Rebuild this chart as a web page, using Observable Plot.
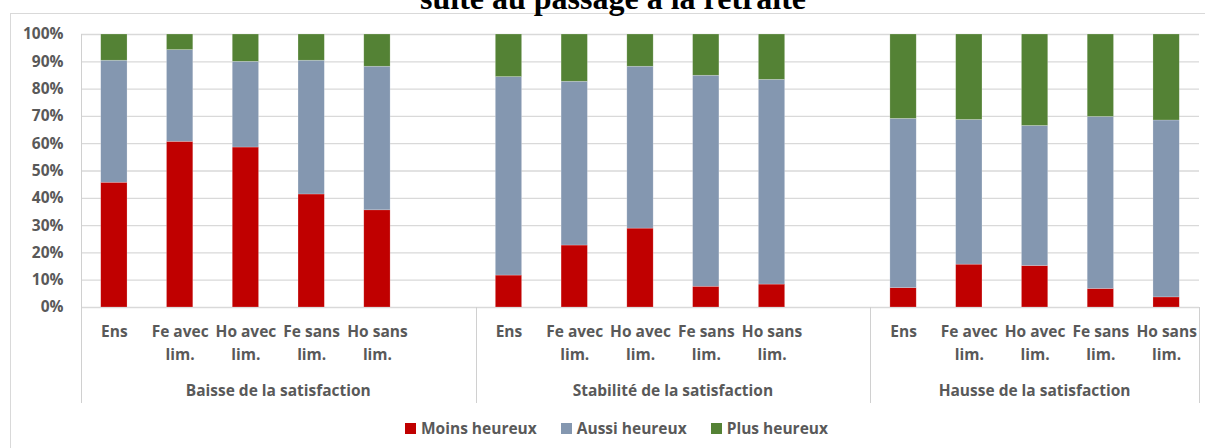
<!DOCTYPE html>
<html><head><meta charset="utf-8">
<script src="https://cdn.jsdelivr.net/npm/d3@7"></script>
<script src="https://cdn.jsdelivr.net/npm/@observablehq/plot@0.6"></script>
<style>
body{margin:0;background:#fff;}
#wrap{position:relative;width:1205px;height:448px;overflow:hidden;font-family:"Open Sans",sans-serif;}
#border{position:absolute;left:10px;top:13px;width:1300px;height:600px;border:1px solid #d9d9d9;box-sizing:border-box;}
#title{position:absolute;left:0;width:1226px;top:-20px;line-height:32px;text-align:center;font:bold 32px "Liberation Serif",serif;color:#000;white-space:nowrap;}
#chart{position:absolute;left:0;top:0;}
#legend{position:absolute;left:405px;top:418px;display:flex;gap:24px;font:bold 15.5px "Open Sans",sans-serif;color:#595959;line-height:20px;}
#legend .it{display:flex;align-items:center;gap:5px;}
#legend .sw{width:11px;height:11px;display:inline-block;}
</style></head>
<body>
<div id="wrap">
  <div id="border"></div>
  <div id="title">suite au passage à la retraite</div>
  <div id="chart"></div>
  <div id="legend"></div>
</div>
<script>
const groups = ["Baisse de la satisfaction", "Stabilité de la satisfaction", "Hausse de la satisfaction"];
const categories = ["Ens", "Fe avec\nlim.", "Ho avec\nlim.", "Fe sans\nlim.", "Ho sans\nlim."];
const series = ["Moins heureux", "Aussi heureux", "Plus heureux"];
const colors = ["#C00000", "#8497B0", "#548235"];
const yTicks = [0, 10, 20, 30, 40, 50, 60, 70, 80, 90, 100];

// values per group, in category order (percent)
const moinsBaisse = [45.7, 60.7, 58.6, 41.4, 35.6];
const aussiBaisse = [44.7, 33.6, 31.4, 49.0, 52.6];
const plusBaisse  = [9.6, 5.7, 10.0, 9.6, 11.8];

const moinsStab = [11.7, 22.7, 28.9, 7.6, 8.4];
const aussiStab = [72.7, 60.0, 59.3, 77.3, 75.0];
const plusStab  = [15.6, 17.3, 11.8, 15.1, 16.6];

const moinsHausse = [7.1, 15.7, 15.2, 6.8, 3.7];
const aussiHausse = [62.0, 53.0, 51.3, 63.0, 64.8];
const plusHausse  = [30.9, 31.3, 33.5, 30.2, 31.5];

const table = [
  [moinsBaisse, aussiBaisse, plusBaisse],
  [moinsStab, aussiStab, plusStab],
  [moinsHausse, aussiHausse, plusHausse]
];

const FONT = "Open Sans";
const FS = 15.5;

// x slots: 5 categories per group, plus an empty slot after the first two groups
const slots = [];
const groupSlots = [];
groups.forEach((g, gi) => {
  const s = [];
  categories.forEach((c, ci) => { const k = gi + "|" + ci; slots.push(k); s.push(k); });
  if (gi < groups.length - 1) { const k = "gap" + gi; slots.push(k); s.push(k); }
  groupSlots.push(s);
});

const rows = [];
const labelRows = [];
groups.forEach((g, gi) => {
  categories.forEach((c, ci) => {
    const key = gi + "|" + ci;
    labelRows.push({key, cat: c});
    series.forEach((s, si) => rows.push({key, group: g, cat: c, series: s, value: table[gi][si][ci]}));
  });
});

const groupAxis = (index, scales, values, dimensions) => {
  const x = scales.x, y = scales.y;
  const step = x.step(), half = x.bandwidth() / 2;
  const y0 = y(0), yTop = y(100), yBottom = y0 + 96;
  const g = d3.create("svg:g");
  const edges = [];
  groupSlots.forEach((s, gi) => {
    const left = x(s[0]) + half - step / 2;
    const right = x(s[s.length - 1]) + half + step / 2;
    edges.push(left);
    if (gi === groupSlots.length - 1) edges.push(right);
    g.append("text")
      .attr("x", (left + right) / 2).attr("y", y0 + 84).attr("dy", "0.35em")
      .attr("text-anchor", "middle")
      .attr("font-family", FONT).attr("font-weight", "bold").attr("font-size", FS)
      .attr("fill", "#595959").text(groups[gi]);
  });
  edges.forEach((ex, i) => {
    g.append("line")
      .attr("x1", Math.round(ex) + 0.5).attr("x2", Math.round(ex) + 0.5)
      .attr("y1", i === 0 ? yTop : y0).attr("y2", yBottom)
      .attr("stroke", "#d0d0d0").attr("stroke-width", 1);
  });
  return g.node();
};

const chart = Plot.plot({
  width: 1205, height: 410,
  marginLeft: 81, marginRight: 6, marginTop: 34, marginBottom: 103,
  style: {fontFamily: FONT, fontWeight: "bold", fontSize: FS + "px", color: "#595959", background: "transparent"},
  x: {type: "band", domain: slots, paddingInner: 0.6, paddingOuter: 0.3, round: false, axis: null},
  y: {domain: [0, 100]},
  color: {domain: series, range: colors},
  marks: [
    Plot.ruleY(yTicks, {stroke: "#d9d9d9", strokeWidth: 1.3}),
    Plot.barY(rows, {x: "key", y: "value", fill: "series", stroke: "#ffffff", strokeOpacity: 0.35, strokeWidth: 0.6}),
    Plot.axisY({ticks: yTicks, tickSize: 0, tickPadding: 18, tickFormat: d => d + "%", fill: "#595959", fontWeight: "bold", fontSize: FS, label: null}),
    Plot.text(labelRows, {x: "key", y: () => 0, text: "cat", lineAnchor: "top", dy: 13, lineHeight: 1.5, fill: "#595959", fontWeight: "bold", fontSize: FS}),
    groupAxis
  ]
});
document.getElementById("chart").appendChild(chart);

const legend = document.getElementById("legend");
series.forEach((s, i) => {
  const it = document.createElement("div"); it.className = "it";
  const sw = document.createElement("span"); sw.className = "sw"; sw.style.background = colors[i];
  const t = document.createElement("span"); t.textContent = s;
  it.appendChild(sw); it.appendChild(t); legend.appendChild(it);
});
</script>
</body></html>
